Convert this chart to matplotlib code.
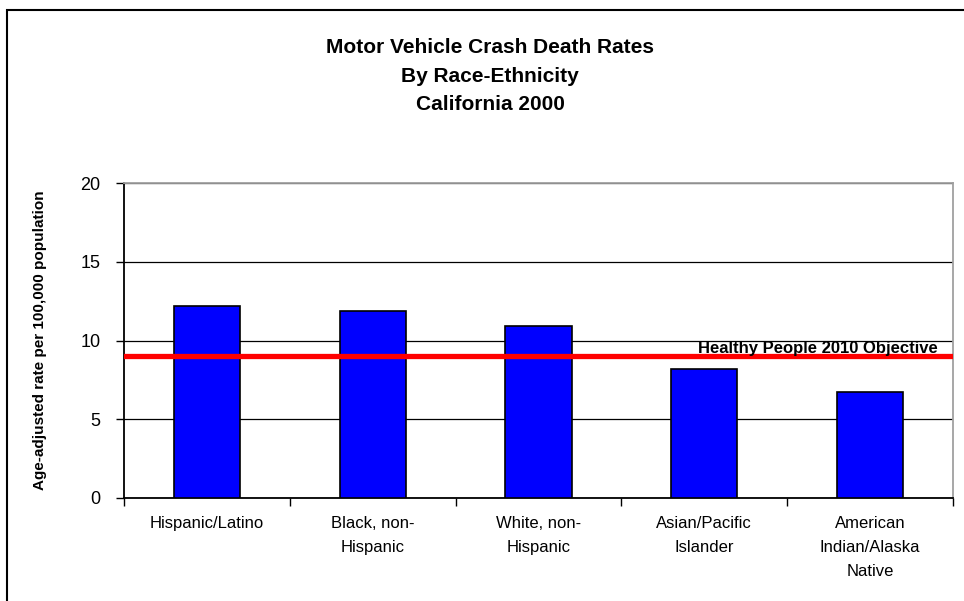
import matplotlib
matplotlib.use('Agg')
import matplotlib.pyplot as plt
from matplotlib.patches import Rectangle

categorias = ['Hispanic/Latino', 'Black, non-\nHispanic', 'White, non-\nHispanic',
              'Asian/Pacific\nIslander', 'American\nIndian/Alaska\nNative']
tasas = [12.2, 11.9, 10.9, 8.2, 6.7]
objetivo = 9.0
titulo = 'Motor Vehicle Crash Death Rates\nBy Race-Ethnicity\nCalifornia 2000'

plt.rcParams['font.family'] = ['Liberation Sans', 'DejaVu Sans']

fig = plt.figure(figsize=(9.64, 6.01), dpi=100)
ax = fig.add_axes([124/964, 1 - 498/601, 829/964, 315/601])

x = list(range(len(categorias)))
ax.bar(x, tasas, width=0.4, color='#0000ff', edgecolor='black', linewidth=1.2, zorder=3)
ax.axhline(objetivo, color='#ff0000', linewidth=3.8, zorder=4)
ax.text(4.41, 9.2, 'Healthy People 2010 Objective', ha='right', va='baseline',
        fontsize=12, fontweight='bold', zorder=5)

ax.set_xlim(-0.5, len(categorias) - 0.5)
ax.set_ylim(0, 20)
ax.set_yticks([0, 5, 10, 15, 20])
ax.tick_params(axis='y', labelsize=13, length=6, width=1, direction='out', pad=11)
ax.set_xticks(x)
ax.set_xticklabels(categorias, fontsize=12)
for t in ax.get_xticklabels():
    t.set_linespacing(1.75)
ax.tick_params(axis='x', length=0, pad=13)
ax.set_xticks([i - 0.5 for i in range(len(categorias) + 1)], minor=True)
ax.tick_params(axis='x', which='minor', length=6, width=1, direction='out')

ax.grid(axis='y', color='black', linewidth=0.9, zorder=0)
ax.set_axisbelow(True)
ax.spines['left'].set_color('black')
ax.spines['bottom'].set_color('black')
ax.spines['top'].set_color('#a0a0a0')
ax.spines['right'].set_color('#a0a0a0')
for s in ax.spines.values():
    s.set_linewidth(1.3)

ax.set_ylabel('Age-adjusted rate per 100,000 population', fontsize=11, fontweight='bold')
ax.yaxis.set_label_coords(-0.093, 0.5)

fig.text(490/964, 1 - 76/601, titulo, ha='center', va='center', fontsize=15,
         fontweight='bold', linespacing=1.65)

# marco del grafico
marco = Rectangle((7/964, -0.1), 1.2, 1.1 - 10/601, transform=fig.transFigure,
                  fill=False, edgecolor='black', linewidth=1.5)
fig.patches.append(marco)

fig.savefig('out.png', dpi=100)
